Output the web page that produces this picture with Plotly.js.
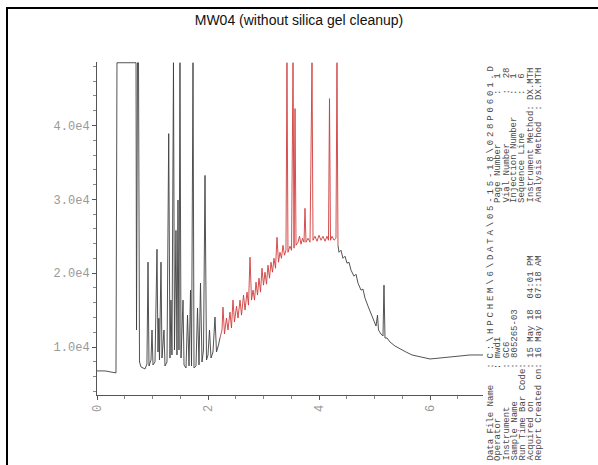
<!DOCTYPE html>
<html>
<head>
<meta charset="utf-8">
<script src="https://cdn.plot.ly/plotly-3.0.1.min.js"></script>
<style>
html,body{margin:0;padding:0;background:#fff;}
#wrap{position:relative;width:598px;height:465px;overflow:hidden;}
#chart{width:598px;height:465px;}
#frame{position:absolute;left:6px;top:7px;width:620px;height:500px;border-left:2px solid #000;border-top:2px solid #000;pointer-events:none;}
</style>
</head>
<body>
<div id="wrap"><div id="chart"></div><div id="frame"></div></div>
<script>
// Retention time (min) and detector signal
const timeA = [0,0.144,0.342,0.36,0.703,0.712,0.73,0.748,0.766,0.793,0.865,0.9,0.919,0.937,0.973,0.991,1.009,1.045,1.081,1.099,1.114,1.126,1.153,1.171,1.207,1.225,1.261,1.292,1.315,1.333,1.351,1.378,1.396,1.423,1.441,1.459,1.477,1.495,1.514,1.55,1.568,1.604,1.631,1.658,1.685,1.703,1.73,1.748,1.784,1.811,1.838,1.865,1.892,1.919,1.946,1.973,2.0,2.027,2.054,2.09,2.126,2.153,2.189,2.216];
const signalA = [6760,6760,6490,48500,48500,12300,48500,48500,7970,7300,7030,7700,21500,7430,8240,12300,7570,7970,23240,9320,13900,8240,21500,8510,12300,7430,7970,38900,8510,16350,8920,48500,9600,25800,8920,29900,9600,48500,8510,16350,7570,7160,14320,7430,17700,7430,48500,7160,7430,15270,7570,18650,7970,9600,33240,8240,8920,12300,8510,9320,14050,9320,10270,11220];

const timeB = [2.216,2.252,2.27,2.297,2.333,2.36,2.396,2.423,2.45,2.477,2.514,2.541,2.577,2.604,2.64,2.667,2.703,2.73,2.757,2.784,2.811,2.838,2.865,2.892,2.919,2.946,2.973,3.0,3.027,3.054,3.081,3.108,3.135,3.162,3.189,3.216,3.243,3.27,3.297,3.324,3.351,3.378,3.405,3.423,3.441,3.477,3.505,3.532,3.55,3.568,3.586,3.622,3.649,3.676,3.703,3.73,3.748,3.766,3.802,3.838,3.874,3.892,3.928,3.964,4.0,4.036,4.072,4.108,4.144,4.171,4.189,4.207,4.234,4.27,4.306,4.324,4.342];
const signalB = [11220,12300,15400,11760,13920,12300,14730,12570,16350,13380,15540,13920,16350,14320,17030,15000,17430,15670,22160,16350,17700,16350,18780,17030,19320,17430,20670,18380,20130,18510,21080,19320,21480,20130,22020,20670,24860,21480,22830,22020,23780,22430,23100,48500,22830,23650,23100,48500,23380,42290,23780,24190,25000,23920,24730,24190,28780,24190,24730,24190,48500,24460,25000,24320,25130,24460,25000,24320,25000,24460,43640,24460,25000,24460,24730,48500,23780];

const timeC = [4.342,4.36,4.396,4.432,4.468,4.505,4.541,4.577,4.631,4.667,4.703,4.757,4.793,4.829,4.883,4.937,4.991,5.027,5.054,5.072,5.117,5.153,5.171,5.189,5.225,5.279,5.369,5.459,5.568,5.676,5.82,6.0,6.18,6.36,6.541,6.721,6.955];
const signalC = [23780,22830,23100,22020,22290,21350,21480,20400,19590,19860,18650,17700,17840,16620,15540,14460,13380,12840,14320,12300,11760,11490,18380,11220,11220,10680,10140,9730,9320,8920,8650,8380,8510,8650,8780,8920,8920];

const yTickVals = [10000,20000,30000,40000];
const yTickText = ['1.0e4','2.0e4','3.0e4','4.0e4'];
const xTickVals = [0,2,4,6];
const xTickText = ['0','2','4','6'];

const dataFilePath = 'C:\\HPCHEM\\6\\DATA\\05-15-18\\028P0601.D';
const infoLeft = [
  'Data File Name   :',
  'Operator         : mwd1',
  'Instrument       : GC6',
  'Sample Name      : 805265-03',
  'Run Time Bar Code:',
  'Acquired on      : 15 May 18  04:01 PM',
  'Report Created on: 16 May 18  07:18 AM'
];
const infoRight = [
  '',
  'Page Number         :  1',
  'Vial Number         :  28',
  'Injection Number    :  1',
  'Sequence Line       :  6',
  'Instrument Method: DX.MTH',
  'Analysis Method  : DX.MTH'
];

const nb = s => s.replace(/ /g, '\u00a0');
const L = 97, R = 483, T = 62, B = 395;
const px2paperX = p => (p - L) / (R - L);
const px2paperY = p => (B - p) / (B - T);
const colX = [490, 498, 506, 514, 522, 530, 538];
const infoFont = {family:'Liberation Mono, monospace', size:9, color:'#4a4a4a'};

const annotations = [];
infoLeft.forEach((s, i) => {
  annotations.push({text: nb(s), xref:'paper', yref:'paper', x: px2paperX(colX[i]), y: px2paperY(463),
    xanchor:'center', yanchor:'bottom', textangle:-90, showarrow:false, font: infoFont});
});
annotations.push({text: '<span style="letter-spacing:2.8px">' + dataFilePath + '</span>', xref:'paper', yref:'paper',
  x: px2paperX(colX[0]), y: px2paperY(361), xanchor:'center', yanchor:'bottom', textangle:-90, showarrow:false, font: infoFont});
infoRight.forEach((s, i) => {
  if (!s) return;
  annotations.push({text: nb(s), xref:'paper', yref:'paper', x: px2paperX(colX[i]), y: px2paperY(205),
    xanchor:'center', yanchor:'bottom', textangle:-90, showarrow:false, font: infoFont});
});

const traces = [
  {x: timeA, y: signalA, mode:'lines', line:{color:'#404040', width:0.9}, hoverinfo:'skip'},
  {x: timeB, y: signalB, mode:'lines', line:{color:'#cf3b3b', width:0.9}, hoverinfo:'skip'},
  {x: timeC, y: signalC, mode:'lines', line:{color:'#404040', width:0.9}, hoverinfo:'skip'}
];

const layout = {
  width: 598, height: 465,
  margin: {l: L, r: 598 - R, t: T, b: 465 - B, pad: 0},
  paper_bgcolor: '#fff', plot_bgcolor: '#fff',
  showlegend: false,
  title: {text: 'MW04 (without silica gel cleanup)', x: 0.5, xref:'container', y: 1 - 20/465, yref:'container', yanchor:'middle',
    font: {family: 'Liberation Sans, Arial, sans-serif', size: 14, color: '#111'}},
  xaxis: {range: [0, 6.955], tickvals: xTickVals, ticktext: xTickText, tickangle: -90,
    showline: true, linecolor: '#555', linewidth: 1, showgrid: false, zeroline: false,
    ticks: 'outside', ticklen: 4, tickcolor: '#555',
    minor: {dtick: 0.5, ticks: 'outside', ticklen: 3, tickcolor: '#888'},
    tickfont: {family: 'Liberation Mono, monospace', size: 12, color: '#999'}},
  yaxis: {range: [3500, 48600], tickvals: yTickVals, ticktext: yTickText,
    showline: true, linecolor: '#555', linewidth: 1, showgrid: false, zeroline: false,
    ticks: 'outside', ticklen: 4, tickcolor: '#555',
    minor: {tick0: 0, dtick: 2000, ticks: 'outside', ticklen: 3, tickcolor: '#888'},
    tickfont: {family: 'Liberation Mono, monospace', size: 12, color: '#999'}},
  annotations: annotations
};

Plotly.newPlot('chart', traces, layout, {displayModeBar: false, staticPlot: true});
</script>
</body>
</html>
